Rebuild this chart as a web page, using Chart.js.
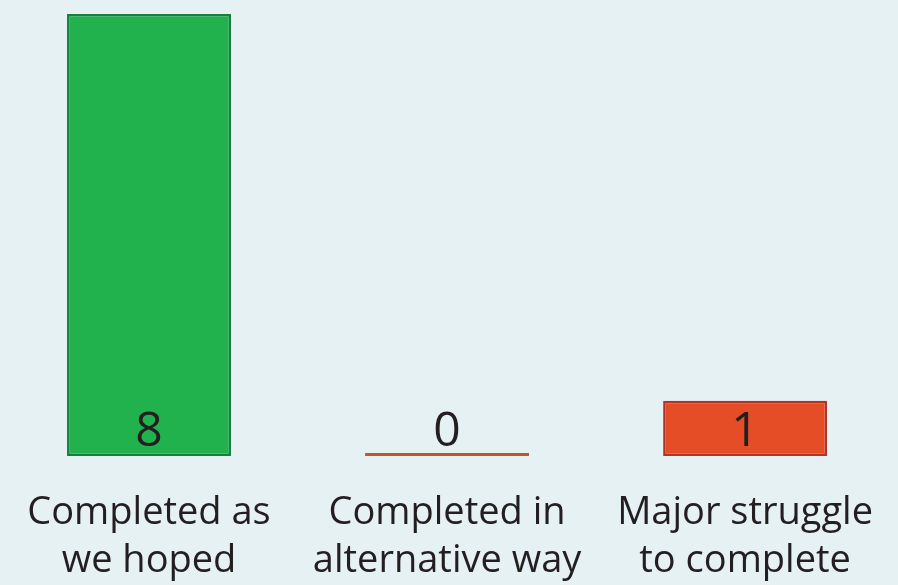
<!DOCTYPE html>
<html>
<head>
<meta charset="utf-8">
<script src="https://cdn.jsdelivr.net/npm/chart.js@4.4.1/dist/chart.umd.min.js"></script>
<style>
  html, body { margin: 0; padding: 0; background: #e6f1f4; }
  #wrap { width: 898px; height: 585px; }
</style>
</head>
<body>
<div id="wrap"><canvas id="resultChart"></canvas></div>
<script>
// resultados das tarefas
const categorias = [
    ['Completed as', 'we hoped'],
    ['Completed in', 'alternative way'],
    ['Major struggle', 'to complete']
];
const valores = [8, 0, 1];
const cores = ['#21b14d', '#c4552b', '#e44d26'];
const bordas = ['#15803b', '#c4552b', '#b3332a'];

// escreve o valor dentro da barra, perto da base
const rotuloValor = {
    id: 'rotuloValor',
    afterDatasetsDraw(chart) {
        const ctx = chart.ctx;
        const meta = chart.getDatasetMeta(0);
        ctx.save();
        ctx.fillStyle = '#231f20';
        ctx.font = '48px "Open Sans"';
        ctx.textAlign = 'center';
        ctx.textBaseline = 'alphabetic';
        meta.data.forEach((bar, i) => {
            ctx.fillText(String(valores[i]), bar.x, bar.base - 10);
        });
        ctx.restore();
    }
};

const ctx = document.getElementById('resultChart').getContext('2d');
const resultChart = new Chart(ctx, {
    type: 'bar',
    data: {
        labels: categorias,
        datasets: [
            {
                data: valores,
                backgroundColor: cores,
                borderColor: bordas,
                borderWidth: 2.5,
                borderSkipped: false,
                minBarLength: 3,
                barPercentage: 0.55,
                categoryPercentage: 1
            }
        ]
    },
    options: {
        responsive: true,
        maintainAspectRatio: false,
        animation: false,
        layout: {
            padding: { top: 14, left: 0, right: 0, bottom: 0 }
        },
        plugins: {
            legend: { display: false },
            tooltip: { enabled: false }
        },
        scales: {
            y: {
                display: false,
                min: 0,
                max: 8
            },
            x: {
                grid: { display: false },
                border: { display: false },
                afterFit(scale) {
                    scale.height = 129;
                },
                ticks: {
                    color: '#231f20',
                    padding: 25,
                    maxRotation: 0,
                    autoSkip: false,
                    font: { family: '"Open Sans"', size: 38, lineHeight: 1.26 }
                }
            }
        }
    },
    plugins: [rotuloValor]
});
</script>
</body>
</html>
